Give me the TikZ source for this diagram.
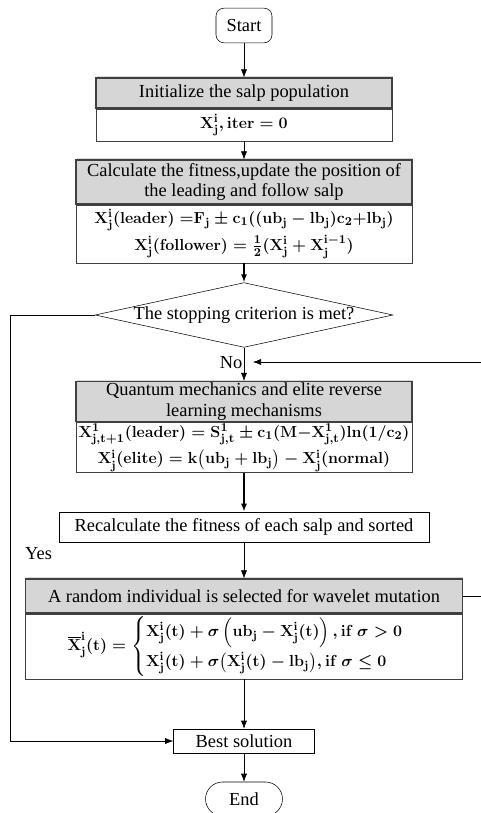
\documentclass[tikz,border=0pt]{standalone}
\usepackage{amsmath,amssymb}
\usepackage{fontspec}
\setmainfont{Liberation Serif}
\usepackage{tikz}
\usetikzlibrary{shapes.geometric,arrows.meta,positioning,shadows}

\begin{document}
\begin{tikzpicture}[
  x=0.75pt, y=-0.75pt,
  font=\fontsize{13.8}{15.5}\selectfont,
  term/.style={draw, fill=white, rounded corners=6pt, minimum width=42pt, minimum height=26pt},
  head/.style={draw=black!75, fill=black!16, line width=0.8pt, align=center, inner sep=1pt,
    drop shadow={shadow xshift=0.6pt, shadow yshift=1.2pt, opacity=0.3}},
  body/.style={draw=black!75, fill=white, align=center, inner sep=1pt, font=\fontsize{12.5}{17}\selectfont\boldmath},
  plain/.style={draw, fill=white, inner sep=1pt},
  dec/.style={draw, diamond, aspect=4.6, inner sep=0pt, minimum width=220pt, minimum height=48pt},
  ar/.style={-{Latex[length=6pt,width=4.5pt]}},
]
\useasboundingbox (0,0) rectangle (481,813);

\node[term] (st) at (244,25.5) {Start};

\node[head, minimum width=222pt, minimum height=22.5pt] (h1) at (244,93) {Initialize the salp population};
\node[body, minimum width=222pt, minimum height=24pt, below=0pt of h1] (b1)
  {$\mathbf{X^i_j, iter = 0}$};

\node[head, minimum width=252pt, minimum height=33pt] (h2) at (244,182)
  {Calculate the fitness,update the position of\\the leading and follow salp};
\node[body, minimum width=252pt, minimum height=43.5pt, below=0pt of h2] (b2)
  {$\mathbf{X^i_j(leader)}\;{=}\mathbf{F_j}\pm\mathbf{c_1((ub_j-lb_j)c_2{+}lb_j)}$\\[2pt]
   $\mathbf{X^i_j(follower)}=\tfrac{\mathbf{1}}{\mathbf{2}}\mathbf{(X^i_j+X^{i-1}_j)}$};

\node[dec] (dec) at (244,315) {The stopping criterion is met?};

\node[head, minimum width=252pt, minimum height=27.75pt] (h3) at (244,401.5)
  {Quantum mechanics and elite reverse\\learning mechanisms};
\node[body, minimum width=252pt, minimum height=32.25pt, below=0pt of h3] (b3)
  {$\mathbf{X^1_{j,t+1}(leader)=S^1_{j,t}}\pm\mathbf{c_1(M{-}X^1_{j,t})ln(1/c_2)}$\\[3pt]
   $\mathbf{X^i_j(elite)=k\bigl(ub_j+lb_j\bigr)-X^i_j(normal)}$};

\node[plain, minimum width=277.5pt, minimum height=22.5pt] (rc) at (244,527)
  {Recalculate the fitness of each salp and sorted};

\node[head, minimum width=327.75pt, minimum height=25.5pt] (h4) at (244,596)
  {A random individual is selected for wavelet mutation};
\node[body, minimum width=327.75pt, minimum height=48.75pt, below=0pt of h4] (b4)
  {$\mathbf{\overline{X}^i_j(t)}=\begin{cases}
     \mathbf{X^i_j(t)}+\sigma\left(\mathbf{ub_j}-\mathbf{X^i_j(t)}\right)\mathbf{,if}\ \sigma>\mathbf{0}\\
     \mathbf{X^i_j(t)}+\sigma\bigl(\mathbf{X^i_j(t)-lb_j}\bigr)\mathbf{,if}\ \sigma\le\mathbf{0}
   \end{cases}$};

\node[plain, minimum width=105.75pt, minimum height=18pt] (best) at (244,741) {Best solution};
\node[term, rounded corners=12.75pt, minimum width=57.75pt, minimum height=25.5pt] (end) at (244,799) {End};

\coordinate (fb) at (253,362);

\draw[ar] (st) -- (h1);
\draw[ar] (b1) -- (h2);
\draw[ar, line width=1.4pt] (b2) -- (dec);
\draw[ar] (dec) -- node[pos=0.45, left, inner sep=1pt] (no) {No} (h3);
\draw[ar, line width=1.4pt] (b3) -- (rc);
\draw[ar] (rc) -- (h4);
\draw[ar] (b4) -- (best);
\draw[ar] (best) -- (end);
\draw[ar] (dec.west) -- ++(-85,0) |- node[pos=0.28, right=8pt] (yes) {Yes} (best.west);
\draw[ar] (h4.east) -- ++(40,0) |- (fb);
\end{tikzpicture}
\end{document}
